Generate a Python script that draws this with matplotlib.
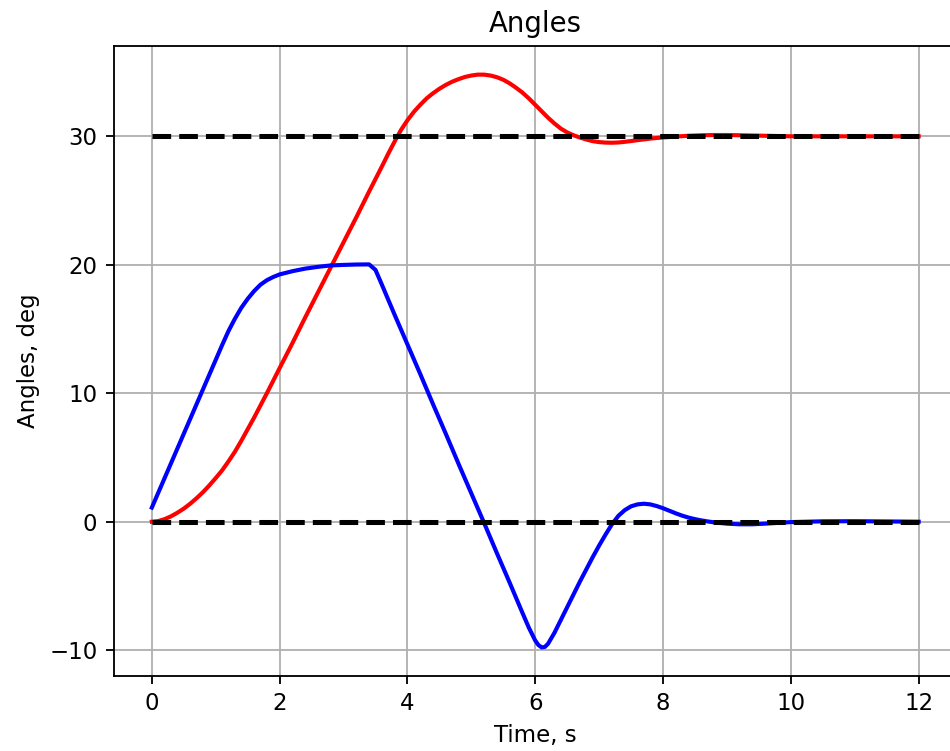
import matplotlib
matplotlib.use("Agg")
import matplotlib.pyplot as plt

# Time base for each series (s)
t_red = [0.0, 0.1, 0.2, 0.3, 0.4, 0.5, 0.6, 0.7, 0.8, 0.9,
         1.0, 1.1, 1.2, 1.3, 1.4, 1.5, 1.6, 1.7, 1.8, 2.0,
         2.2, 2.4, 2.6, 2.8, 3.0, 3.2, 3.4, 3.6, 3.7, 3.8,
         3.9, 4.0, 4.1, 4.2, 4.3, 4.4, 4.5, 4.6, 4.7, 4.8,
         4.9, 5.0, 5.1, 5.2, 5.3, 5.4, 5.5, 5.6, 5.7, 5.8,
         5.9, 6.0, 6.1, 6.2, 6.3, 6.4, 6.5, 6.6, 6.7, 6.8,
         6.9, 7.0, 7.1, 7.2, 7.3, 7.4, 7.5, 7.6, 7.7, 7.8,
         7.9, 8.0, 8.2, 8.4, 8.6, 8.8, 9.0, 9.2, 9.4, 9.6,
         9.8, 10.0, 10.5, 11.0, 11.5, 12.0]
angle_red = [0.0, 0.05, 0.2, 0.42, 0.7, 1.02, 1.4, 1.83, 2.3, 2.83,
             3.4, 4.0, 4.7, 5.45, 6.3, 7.2, 8.1, 9.05, 10.0, 11.96,
             13.9, 15.9, 17.85, 19.8, 21.75, 23.7, 25.7, 27.65, 28.65, 29.6,
             30.5, 31.25, 31.9, 32.45, 32.95, 33.35, 33.7, 34.0, 34.25, 34.45,
             34.62, 34.73, 34.8, 34.8, 34.73, 34.6, 34.4, 34.12, 33.78, 33.4,
             32.95, 32.45, 31.95, 31.45, 31.0, 30.6, 30.3, 30.08, 29.9, 29.75,
             29.62, 29.55, 29.51, 29.5, 29.52, 29.57, 29.63, 29.7, 29.76, 29.82,
             29.87, 29.91, 29.98, 30.04, 30.08, 30.1, 30.1, 30.08, 30.06, 30.04,
             30.02, 30.0, 30.0, 30.0, 30.0, 30.0]

t_blue = [0.0, 0.1, 0.2, 0.3, 0.4, 0.5, 0.6, 0.7, 0.8, 0.9,
          1.0, 1.1, 1.2, 1.3, 1.4, 1.5, 1.6, 1.7, 1.8, 1.9,
          2.0, 2.2, 2.4, 2.6, 2.8, 3.0, 3.2, 3.4, 3.5, 3.6,
          3.8, 4.0, 4.2, 4.4, 4.6, 4.8, 5.0, 5.2, 5.4, 5.6,
          5.8, 5.9, 6.0, 6.05, 6.1, 6.15, 6.2, 6.3, 6.4, 6.5,
          6.6, 6.7, 6.8, 6.9, 7.0, 7.1, 7.2, 7.3, 7.4, 7.5,
          7.6, 7.7, 7.8, 7.9, 8.0, 8.1, 8.2, 8.3, 8.4, 8.5,
          8.6, 8.7, 8.8, 9.0, 9.2, 9.4, 9.6, 9.8, 10.0, 10.5,
          11.0, 11.5, 12.0]
angle_blue = [1.1, 2.25, 3.4, 4.55, 5.7, 6.85, 8.0, 9.15, 10.3, 11.45,
              12.6, 13.75, 14.85, 15.8, 16.65, 17.35, 17.95, 18.45, 18.8, 19.05,
              19.25, 19.5, 19.7, 19.84, 19.95, 19.99, 20.02, 20.03, 19.6, 18.45,
              16.1, 13.8, 11.5, 9.15, 6.85, 4.5, 2.2, -0.1, -2.45, -4.75,
              -7.1, -8.25, -9.25, -9.6, -9.78, -9.75, -9.5, -8.65, -7.65, -6.65,
              -5.65, -4.65, -3.7, -2.75, -1.85, -1.0, -0.2, 0.45, 0.9, 1.2,
              1.35, 1.4, 1.35, 1.22, 1.05, 0.85, 0.65, 0.47, 0.32, 0.2,
              0.1, 0.02, -0.05, -0.15, -0.2, -0.2, -0.15, -0.09, -0.03, 0.03,
              0.04, 0.02, 0.0]

# Reference (set-point) levels
t_ref = [0.0, 12.0]
ref_high = [30.0, 30.0]
ref_low = [0.0, 0.0]

DPI = 165
fig = plt.figure(figsize=(950 / DPI, 751 / DPI), dpi=DPI)
ax = fig.add_axes([113.5 / 950, 75 / 751, 843.5 / 950, 630 / 751])

ax.plot(t_red, angle_red, color="r", linewidth=1.8)
ax.plot(t_blue, angle_blue, color="b", linewidth=1.8)
ax.plot(t_ref, ref_high, "k--", linewidth=2.2)
ax.plot(t_ref, ref_low, "k--", linewidth=2.2)

ax.set_title("Angles")
ax.set_xlabel("Time, s")
ax.set_ylabel("Angles, deg")
ax.grid(True)

fig.savefig("out.png", dpi=DPI)
